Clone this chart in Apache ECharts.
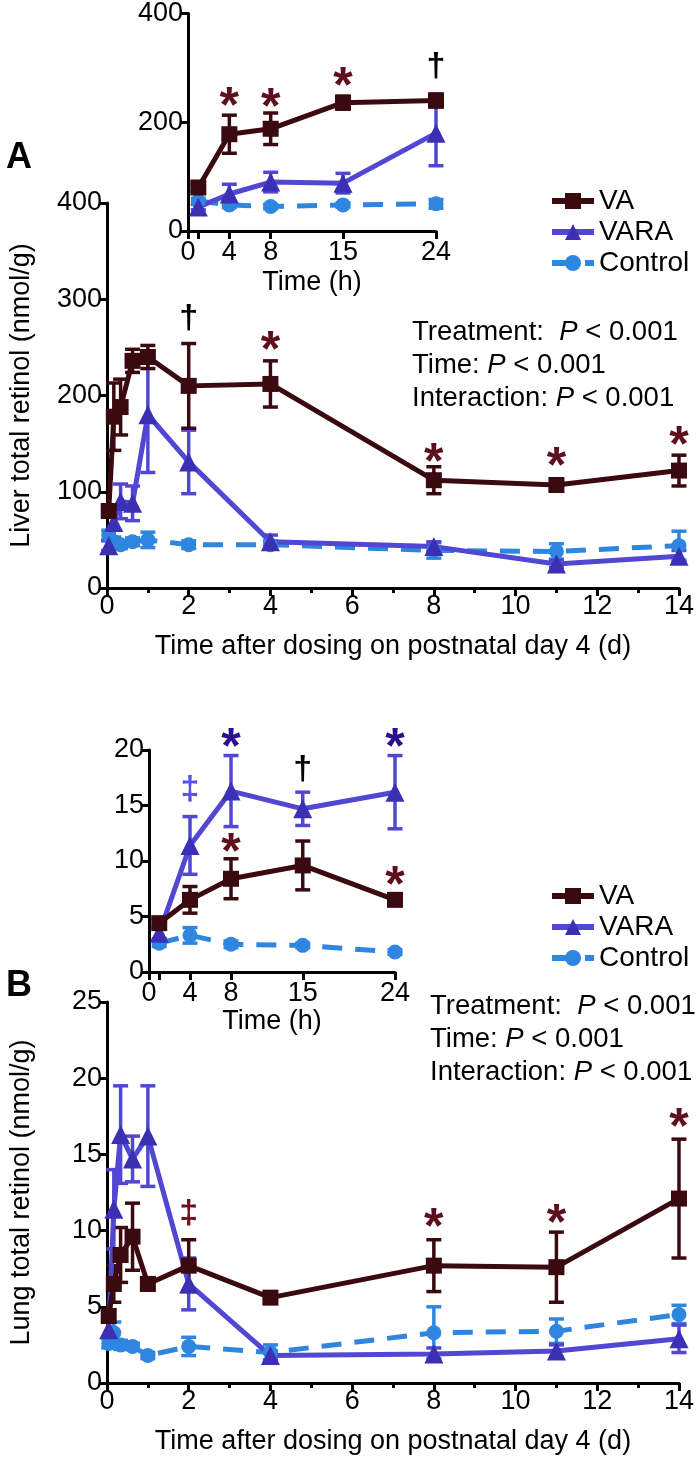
<!DOCTYPE html>
<html>
<head>
<meta charset="utf-8">
<script src="https://cdn.jsdelivr.net/npm/echarts@6/dist/echarts.min.js"></script>
<style>
html,body{margin:0;padding:0;background:#fff;}
#chart{width:697px;height:1465px;}
</style>
</head>
<body>
<div id="chart"></div>
<script>
// ---------- data ----------
const daysMain = [0.042, 0.167, 0.333, 0.625, 1, 2, 4, 8, 11, 14];
const hoursInset = [1, 4, 8, 15, 24];
const insetTickValues = [0, 1, 4, 8, 15, 24];
const insetLabelValues = [0, 4, 8, 15, 24];

const liverVA = [80, 178, 188, 236, 240, 210, 212, 112, 107, 122];
const liverVAErr = [6, 35, 29, 12, 12, 44, 24, 14, 5, 16];
const liverVARA = [44, 68, 90, 88, 180, 131, 48, 43, 25, 33];
const liverVARAErr = [5, 18, 18, 18, 60, 33, 7, 5, 4, 6];
const liverCtrl = [55, 48, 45, 48, 50, 45, 45, 39, 38, 44];
const liverCtrlErr = [5, 5, 4, 4, 8, 4, 4, 8, 8, 15];

const lungVA = [4.4, 6.5, 8.4, 9.6, 6.5, 7.7, 5.6, 7.7, 7.6, 12.1];
const lungVAErr = [0.4, 1.2, 1.8, 2.2, 0.4, 1.7, 0.3, 1.7, 2.3, 3.9];
const lungVARA = [3.5, 11.4, 16.3, 14.7, 16.2, 6.5, 1.8, 1.9, 2.1, 2.9];
const lungVARAErr = [0.5, 2.6, 3.2, 1.5, 3.3, 1.7, 0.3, 0.4, 0.4, 0.9];
const lungCtrl = [2.6, 3.3, 2.5, 2.4, 1.8, 2.4, 2.0, 3.3, 3.4, 4.5];
const lungCtrlErr = [0.3, 0.7, 0.3, 0.2, 0.2, 0.6, 0.5, 1.7, 0.8, 0.6];

// significance marks: [x, y, symbol, colorKey]
const liverMainMarks = [[2, 280, '†', 'k'], [4, 256, '*', 'va'], [8, 140, '*', 'va'], [11, 136, '*', 'va'], [14, 158, '*', 'va']];
const liverInsetMarks = [[4, 246, '*', 'va'], [8, 245, '*', 'va'], [15, 282, '*', 'va'], [24, 302, '†', 'k']];
const lungInsetMarks = [[4, 16.4, '‡', 'lb'], [8, 21.1, '*', 'nv'], [15, 18.2, '†', 'k'], [24, 21.1, '*', 'nv'], [8, 11.6, '*', 'va'], [24, 8.6, '*', 'va']];
const lungMainMarks = [[2, 11.1, '‡', 'dr'], [8, 10.8, '*', 'va'], [11, 11.1, '*', 'va'], [14, 17.4, '*', 'va']];

const legendNames = ['VA', 'VARA', 'Control'];
const statLines = ['Treatment:  ', 'Time: ', 'Interaction: '];

// ---------- style ----------
const FF = '"Liberation Sans", Arial, sans-serif';
const C = {va: '#3a0a10', vara: '#5247d2', varaMk: '#3b30b4', ctrl: '#2f86e0'};
const MK = {va: '#5e0f1d', nv: '#2b0f8e', k: '#000', lb: '#5552e6', dr: '#6e1016'};
const FS = 27;

const chart = echarts.init(document.getElementById('chart'), null, {renderer: 'canvas'});

const grids = [
  {left: 107, top: 203, width: 573, height: 385},   // A main
  {left: 188, top: 13, width: 248, height: 218},    // A inset
  {left: 107, top: 1002, width: 573, height: 381},  // B main
  {left: 149, top: 750, width: 246, height: 222}    // B inset
];

function axisBase() {
  return {
    axisLine: {show: true, lineStyle: {color: '#000', width: 3}},
    axisTick: {show: true, length: 8, lineStyle: {color: '#000', width: 3}},
    axisLabel: {color: '#000', fontSize: FS, fontFamily: FF, margin: 5},
    splitLine: {show: false},
    nameTextStyle: {color: '#000', fontSize: FS, fontFamily: FF}
  };
}

const xAxes = [
  Object.assign(axisBase(), {gridIndex: 0, type: 'value', min: 0, max: 14, interval: 2,
    name: 'Time after dosing on postnatal day 4 (d)', nameLocation: 'middle', nameGap: 45,
    minorTick: {show: true, splitNumber: 2, length: 5, lineStyle: {color: '#000', width: 3}}}),
  Object.assign(axisBase(), {gridIndex: 1, type: 'value', min: 0, max: 24,
    name: 'Time (h)', nameLocation: 'middle', nameGap: 38}),
  Object.assign(axisBase(), {gridIndex: 2, type: 'value', min: 0, max: 14, interval: 2,
    name: 'Time after dosing on postnatal day 4 (d)', nameLocation: 'middle', nameGap: 45,
    minorTick: {show: true, splitNumber: 2, length: 5, lineStyle: {color: '#000', width: 3}}}),
  Object.assign(axisBase(), {gridIndex: 3, type: 'value', min: 0, max: 24,
    name: 'Time (h)', nameLocation: 'middle', nameGap: 34})
];
[1, 3].forEach(i => {
  xAxes[i].axisTick.customValues = insetTickValues;
  xAxes[i].axisLabel.customValues = insetLabelValues;
  xAxes[i].axisLabel.margin = 8;
});

const yAxes = [
  Object.assign(axisBase(), {gridIndex: 0, type: 'value', min: 0, max: 400, interval: 100,
    name: 'Liver total retinol (nmol/g)', nameLocation: 'middle', nameGap: 72}),
  Object.assign(axisBase(), {gridIndex: 1, type: 'value', min: 0, max: 400, interval: 200}),
  Object.assign(axisBase(), {gridIndex: 2, type: 'value', min: 0, max: 25, interval: 5,
    name: 'Lung total retinol (nmol/g)', nameLocation: 'middle', nameGap: 72}),
  Object.assign(axisBase(), {gridIndex: 3, type: 'value', min: 0, max: 20, interval: 5})
];

function pairs(xs, ys) { return xs.map((x, i) => [x, ys[i]]); }
function triples(xs, ys, es) { return xs.map((x, i) => [x, ys[i], es[i]]); }

function lineSeries(name, idx, data) {
  const base = {name, type: 'line', xAxisIndex: idx, yAxisIndex: idx, data, z: 3,
    animation: false, silent: true};
  if (name === 'VA') {
    return Object.assign(base, {symbol: 'rect', symbolSize: 16,
      itemStyle: {color: C.va}, lineStyle: {color: C.va, width: 5}});
  } else if (name === 'VARA') {
    return Object.assign(base, {symbol: 'triangle', symbolSize: 19,
      itemStyle: {color: C.varaMk}, lineStyle: {color: C.vara, width: 5}});
  }
  return Object.assign(base, {symbol: 'circle', symbolSize: 15,
    itemStyle: {color: C.ctrl}, lineStyle: {color: C.ctrl, width: 5, type: [20, 13]}});
}

function errSeries(idx, data, color) {
  return {type: 'custom', xAxisIndex: idx, yAxisIndex: idx, data, z: 2, silent: true,
    animation: false,
    renderItem(params, api) {
      const x = api.value(0), y = api.value(1), e = api.value(2);
      const t = api.coord([x, y + e]), b = api.coord([x, y - e]);
      const cap = 7.5;
      const st = {stroke: color, lineWidth: 3.5};
      return {type: 'group', children: [
        {type: 'line', shape: {x1: t[0], y1: t[1], x2: b[0], y2: b[1]}, style: st},
        {type: 'line', shape: {x1: t[0] - cap, y1: t[1], x2: t[0] + cap, y2: t[1]}, style: st},
        {type: 'line', shape: {x1: b[0] - cap, y1: b[1], x2: b[0] + cap, y2: b[1]}, style: st}
      ]};
    }};
}

function markSeries(idx, data) {
  return {type: 'custom', xAxisIndex: idx, yAxisIndex: idx, data, z: 4, silent: true,
    animation: false, clip: false,
    renderItem(params, api) {
      const d = data[params.dataIndex];
      const p = api.coord([d[0], d[1]]);
      const isStar = d[2] === '*';
      const size = isStar ? 50 : 34;
      return {type: 'text', x: p[0], y: p[1] + (isStar ? 0.22 * size : 0),
        style: {text: d[2], fill: MK[d[3]], align: 'center', verticalAlign: 'middle',
          font: 'bold ' + size + 'px ' + FF}};
    }};
}

const series = [];
function addPanel(idx, xs, va, vaE, vara, varaE, ctrl, ctrlE, marks) {
  series.push(errSeries(idx, triples(xs, ctrl, ctrlE), C.ctrl));
  series.push(errSeries(idx, triples(xs, vara, varaE), C.vara));
  series.push(errSeries(idx, triples(xs, va, vaE), C.va));
  series.push(lineSeries('Control', idx, pairs(xs, ctrl)));
  series.push(lineSeries('VARA', idx, pairs(xs, vara)));
  series.push(lineSeries('VA', idx, pairs(xs, va)));
  series.push(markSeries(idx, marks));
}
addPanel(0, daysMain, liverVA, liverVAErr, liverVARA, liverVARAErr, liverCtrl, liverCtrlErr, liverMainMarks);
addPanel(1, hoursInset, liverVA.slice(0, 5), liverVAErr.slice(0, 5), liverVARA.slice(0, 5), liverVARAErr.slice(0, 5), liverCtrl.slice(0, 5), liverCtrlErr.slice(0, 5), liverInsetMarks);
addPanel(2, daysMain, lungVA, lungVAErr, lungVARA, lungVARAErr, lungCtrl, lungCtrlErr, lungMainMarks);
addPanel(3, hoursInset, lungVA.slice(0, 5), lungVAErr.slice(0, 5), lungVARA.slice(0, 5), lungVARAErr.slice(0, 5), lungCtrl.slice(0, 5), lungCtrlErr.slice(0, 5), lungInsetMarks);

function legendAt(top) {
  return {show: true, orient: 'vertical', left: 544, top, data: legendNames,
    itemWidth: 42, itemHeight: 20, itemGap: 3, selectedMode: false,
    lineStyle: {width: 6},
    textStyle: {color: '#000', fontSize: 28, fontFamily: FF}};
}

function statText(left, top) {
  return {type: 'text', left, top, silent: true,
    style: {
      text: statLines.map(s => s + '{i|P} < 0.001').join('\n'),
      font: '27.5px ' + FF, fill: '#000', lineHeight: 33,
      rich: {i: {fontStyle: 'italic', fontSize: 27.5, fontFamily: FF, fill: '#000', lineHeight: 33}}
    }};
}

chart.setOption({
  backgroundColor: '#fff',
  animation: false,
  grid: grids,
  xAxis: xAxes,
  yAxis: yAxes,
  legend: [legendAt(182), legendAt(877)],
  series,
  graphic: [
    {type: 'text', left: 6, top: 140, style: {text: 'A', font: 'bold 36px ' + FF, fill: '#000'}},
    {type: 'text', left: 6, top: 968, style: {text: 'B', font: 'bold 36px ' + FF, fill: '#000'}},
    statText(412, 316),
    statText(430, 990)
  ]
});
</script>
</body>
</html>
